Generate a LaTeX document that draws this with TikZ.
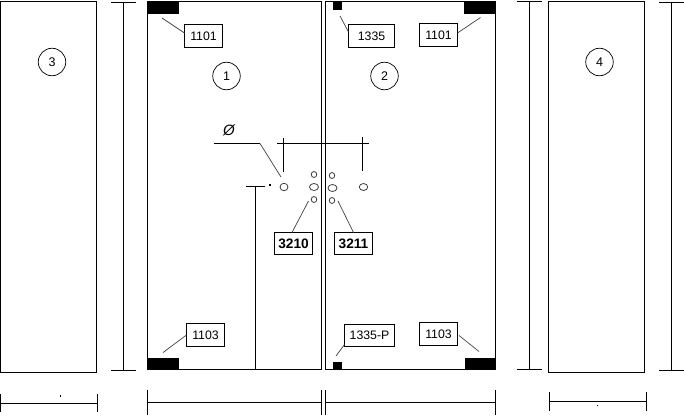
\documentclass[tikz,border=0pt]{standalone}
\usepackage{fontspec}
\setmainfont{Liberation Sans}
\usetikzlibrary{shapes.geometric}
\tikzset{
  x=1pt,y=-1pt,
  ink/.style={line width=1pt,draw=black},
  panel/.style={ink,rectangle,inner sep=0pt,outer sep=0pt},
  block/.style={fill=black,draw=none,inner sep=0pt,outer sep=0pt,rectangle},
  tag/.style={draw=black,line width=0.9pt,fill=white,rectangle,inner sep=0pt,outer sep=0pt,minimum width=38pt,minimum height=23pt,font=\fontsize{12.3}{14}\selectfont},
  boldtag/.style={tag,minimum height=22pt,font=\fontsize{13.7}{15}\bfseries\selectfont},
  num/.style={circle,draw=black,line width=0.7pt,inner sep=0pt,minimum size=27.5pt,font=\fontsize{12.5}{14}\selectfont},
  hole/.style={ellipse,draw=black!75,line width=0.8pt,inner sep=0pt,outer sep=0pt},
  leader/.style={draw=black!75,line width=0.7pt},
  speck/.style={fill=black,draw=none,inner sep=0pt,minimum size=1.2pt,rectangle}
}
\begin{document}
\begin{tikzpicture}
\useasboundingbox (0,0) rectangle (684,415);
% panels
\node[panel,minimum width=96pt,minimum height=371pt] (p3) at (48.5,187) {};
\node[panel,minimum width=174pt,minimum height=368pt] (p1) at (234.5,185.5) {};
\node[panel,minimum width=170pt,minimum height=368pt] (p2) at (410.5,185.5) {};
\node[panel,minimum width=96pt,minimum height=371pt] (p4) at (596.5,187) {};
% corner blocks
\node[block,minimum width=32pt,minimum height=13pt] (tl) at (163,7.5) {};
\node[block,minimum width=32pt,minimum height=13pt] (tr) at (480,7.5) {};
\node[block,minimum width=32pt,minimum height=11pt] (bl) at (163,363.5) {};
\node[block,minimum width=31pt,minimum height=11pt] (br) at (480.5,363.5) {};
\node[block,minimum width=9pt,minimum height=8pt] (st) at (337.5,6) {};
\node[block,minimum width=9pt,minimum height=7pt] (sb) at (337.5,365.5) {};
% numbers
\node[num] (n1) at (226.5,76) {1};
\node[num] (n2) at (384.5,76) {2};
\node[num] (n3) at (52,62) {3};
\node[num] (n4) at (599.5,62) {4};
% tags
\node[tag] (a1) at (203.5,36) {1101};
\node[tag,minimum width=46pt] (a2) at (371.5,36) {1335};
\node[tag] (a3) at (438.5,35) {1101};
\node[tag] (a4) at (205.5,335) {1103};
\node[tag,minimum width=50pt,minimum height=22pt] (a5) at (369.5,335.5) {1335-P};
\node[tag] (a6) at (438.5,334) {1103};
\node[boldtag] (b1) at (293.5,243.5) {3210};
\node[boldtag] (b2) at (353.5,243.5) {3211};
% leaders
\coordinate (c1) at (162,18);
\coordinate (c2) at (340,16);
\coordinate (c3) at (480.5,17.5);
\coordinate (c4) at (163,352.5);
\coordinate (c5) at (336,356);
\coordinate (c6) at (479,351.5);
\draw[leader] (c1) -- ([yshift=3pt]a1.west);
\draw[leader] (c2) -- ([yshift=4pt]a2.west);
\draw[leader] (c3) -- ([yshift=2pt]a3.east);
\draw[leader] (c4) -- (a4.west);
\draw[leader] (c5) -- ([yshift=-9pt]a5.west);
\draw[leader] (c6) -- ([xshift=1.5pt,yshift=-1.5pt]a6.east);
% holes
\node[hole,minimum width=8pt,minimum height=7.5pt] (h1) at (284,187) {};
\node[hole,minimum width=9pt,minimum height=7pt] (h2) at (314,187) {};
\node[hole,minimum width=9pt,minimum height=7pt] (h3) at (332.5,188) {};
\node[hole,minimum width=8.5pt,minimum height=7pt] (h4) at (363.5,187) {};
\node[hole,minimum width=5.5pt,minimum height=6pt] (s1) at (314,174.5) {};
\node[hole,minimum width=5.5pt,minimum height=6pt] (s2) at (332,175.5) {};
\node[hole,minimum width=5.5pt,minimum height=6pt] (s3) at (314,199.5) {};
\node[hole,minimum width=5.5pt,minimum height=6pt] (s4) at (332,200.5) {};
\draw[leader] (308.5,201) -- ([xshift=-1.5pt]b1.north);
\draw[leader] (338,201) -- (b2.north);
% diameter callout
\node[font=\fontsize{15}{16}\itshape\selectfont,inner sep=0pt] (dia) at (229,130.5) {Ø};
\coordinate (d0) at (214,143.5);
\coordinate (d1) at (260,143.5);
\coordinate (d2) at (281,177);
\draw[ink] (d0) -- (d1);
\draw[leader] (d1) -- (d2);
% hole spacing dimension
\coordinate (e0) at (277,143.5);
\coordinate (e1) at (368.5,143.5);
\draw[ink] (e0) -- (e1);
\draw[ink] (283.5,138) -- (283.5,172);
\draw[ink] (362.5,137) -- (362.5,171);
% height to handle
\coordinate (f0) at (246,186.5);
\coordinate (f1) at (265,186.5);
\coordinate (f2) at (255.5,186.5);
\draw[ink] (f0) -- (f1);
\draw[ink] (f2) -- (f2 |- p1.south);
\node[speck] (sp0) at (270,185) {};
% vertical dimensions
\draw[ink] (111,2.5) -- (136,2.5) (123.5,2.5) -- (123.5,370.5) (111,370.5) -- (136,370.5);
\draw[ink] (517,1.5) -- (542,1.5) (529.5,1.5) -- (529.5,369.5) (517,369.5) -- (542,369.5);
\draw[ink] (659,2.5) -- (684,2.5) (671.5,2.5) -- (671.5,370.5) (659,370.5) -- (684,370.5);
% horizontal dimensions
\draw[ink] (0.5,394) -- (0.5,412) (97.5,394) -- (97.5,412) (0.5,403.5) -- (97.5,403.5);
\node[speck] (sp1) at (60.3,396) {};
\draw[ink] (147.5,390) -- (147.5,415) (321.5,390) -- (321.5,415) (147.5,402.5) -- (321.5,402.5);
\draw[ink] (325.5,390) -- (325.5,415) (495.5,390) -- (495.5,415) (325.5,402.5) -- (495.5,402.5);
\draw[ink] (549.5,392) -- (549.5,411) (646.5,392) -- (646.5,411) (549.5,401.5) -- (646.5,401.5);
\node[speck] (sp2) at (597.5,405.5) {};
\end{tikzpicture}
\end{document}
